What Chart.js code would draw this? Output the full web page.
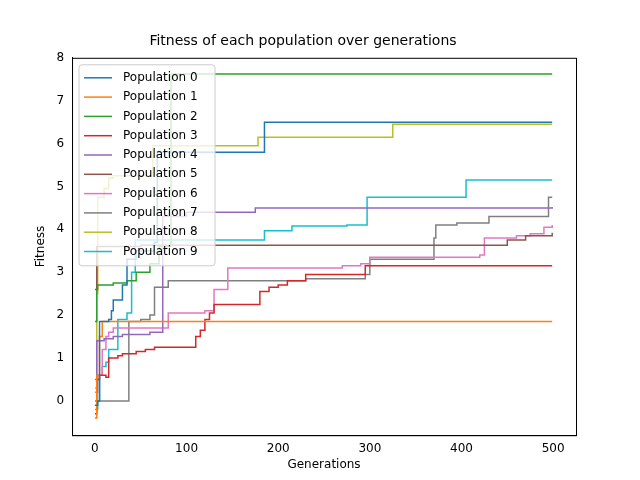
<!DOCTYPE html>
<html><head><meta charset="utf-8">
<script src="https://cdn.jsdelivr.net/npm/chart.js@4"></script>
<style>html,body{margin:0;background:#fff}#c{width:640px;height:480px}</style>
</head><body><div id="c"><canvas id="chart" width="640" height="480"></canvas></div>
<script>
// generations where each population improves, and fitness reached there
const names = ['Population 0','Population 1','Population 2','Population 3','Population 4','Population 5','Population 6','Population 7','Population 8','Population 9'];
const colors = ['#1f77b4','#ff7f0e','#2ca02c','#d62728','#9467bd','#8c564b','#e377c2','#7f7f7f','#bcbd22','#17becf'];
const xTicks = [0, 100, 200, 300, 400, 500];
const yTicks = [0, 1, 2, 3, 4, 5, 6, 7, 8];
const gens = [
  [0,3,5,15,18,20,30,35,45,65,68,185,499],
  [0,2,5,8,499],
  [0,2,3,20,35,45,60,70,83,499],
  [0,2,5,12,15,25,30,45,55,65,110,115,120,125,130,180,190,200,210,230,295,499],
  [0,2,10,20,30,60,74,100,175,499],
  [0,2,50,450,470,499],
  [0,3,8,12,15,20,80,120,130,145,270,290,300,420,425,460,475,490,499],
  [0,37,50,60,65,80,230,295,300,370,372,395,430,495,499],
  [0,2,3,10,15,20,63,178,325,499],
  [0,3,5,8,12,15,25,35,40,44,185,215,275,297,405,499]
];
const fitness = [
  [-0.1,0,1.85,1.9,2.1,2.35,2.7,3.3,3.5,3.7,5.8,6.5,6.5],
  [-0.4,0.6,1.5,1.85,1.85],
  [1.85,2.6,2.7,2.75,2.8,3.0,3.2,3.6,7.62,7.62],
  [-0.3,0.5,0.6,0.55,1.0,1.05,1.1,1.15,1.2,1.25,1.5,1.65,1.9,2.05,2.25,2.55,2.65,2.7,2.8,2.95,3.15,3.15],
  [0.5,1.4,1.45,1.5,1.55,1.6,4.3,4.4,4.5,4.52],
  [2.6,3.6,3.63,3.75,3.85,3.92],
  [0.2,0.6,1.2,1.5,1.6,1.7,2.05,2.1,2.6,3.1,3.15,3.2,3.35,3.4,3.8,3.85,3.9,4.05,4.1],
  [0,1.85,1.9,2.0,2.65,2.8,2.85,2.95,3.3,3.8,4.1,4.15,4.3,4.75,4.75],
  [0.3,2.5,4.75,4.95,5.2,5.25,5.95,6.15,6.45,6.45],
  [-0.2,0,0.6,0.8,0.9,1.2,1.9,2.05,3.0,3.75,3.97,4.08,4.1,4.75,5.15,5.15]
];
const font = {family:'DejaVu Sans', size:12};

// matplotlib-ish frame and legend box inside the plot
const framePlugin = {
  id: 'frame',
  afterDraw(chart) {
    const {ctx, chartArea: a} = chart;
    ctx.save();
    ctx.strokeStyle = '#000'; ctx.lineWidth = 1;
    ctx.strokeRect(a.left + 0.5, a.top + 0.5, a.right - a.left, a.bottom - a.top);
    const x0 = a.left + 7, y0 = a.top + 7, w = 136, rowH = 19.3, h = names.length * rowH + 8;
    ctx.fillStyle = 'rgba(255,255,255,0.8)';
    ctx.strokeStyle = '#ccc';
    ctx.beginPath(); ctx.roundRect(x0, y0, w, h, 3); ctx.fill(); ctx.stroke();
    ctx.font = '12px DejaVu Sans'; ctx.textBaseline = 'middle';
    names.forEach((n, i) => {
      const y = y0 + 13 + i * rowH;
      ctx.strokeStyle = colors[i]; ctx.lineWidth = 1.5;
      ctx.beginPath(); ctx.moveTo(x0 + 5, y); ctx.lineTo(x0 + 33, y); ctx.stroke();
      ctx.fillStyle = '#000'; ctx.fillText(n, x0 + 44, y);
    });
    ctx.restore();
  }
};

new Chart(document.getElementById('chart'), {
  type: 'line',
  data: {
    datasets: names.map((n, i) => ({
      label: n,
      data: gens[i].map((g, j) => ({x: g, y: fitness[i][j]})),
      borderColor: colors[i], backgroundColor: colors[i],
      borderWidth: 1.5, pointRadius: 0, stepped: 'before'
    }))
  },
  plugins: [framePlugin],
  options: {
    responsive: false, animation: false,
    layout: {padding: {left: 30, right: 64, top: 0, bottom: 8}},
    plugins: {
      title: {display: true, text: 'Fitness of each population over generations', color: '#000', font: {family:'DejaVu Sans', size:14, weight:'normal'}, padding: {top: 33, bottom: 8}},
      legend: {display: false}
    },
    scales: {
      x: {type: 'linear', min: -25, max: 525, grid: {display: false, drawTicks: true, tickLength: 4, tickColor: '#000'},
        border: {color: '#000'},
        afterBuildTicks: s => { s.ticks = xTicks.map(v => ({value: v})); },
        ticks: {color: '#000', font: font, padding: 2},
        title: {display: true, text: 'Generations', color: '#000', font: font, padding: 0}},
      y: {min: -0.8, max: 8, grid: {display: false, tickLength: 4, tickColor: '#000'}, border: {color: '#000'},
        afterBuildTicks: s => { s.ticks = yTicks.map(v => ({value: v})); },
        ticks: {color: '#000', font: font, padding: 4},
        title: {display: true, text: 'Fitness', color: '#000', font: font}}
    }
  }
});
</script></body></html>
